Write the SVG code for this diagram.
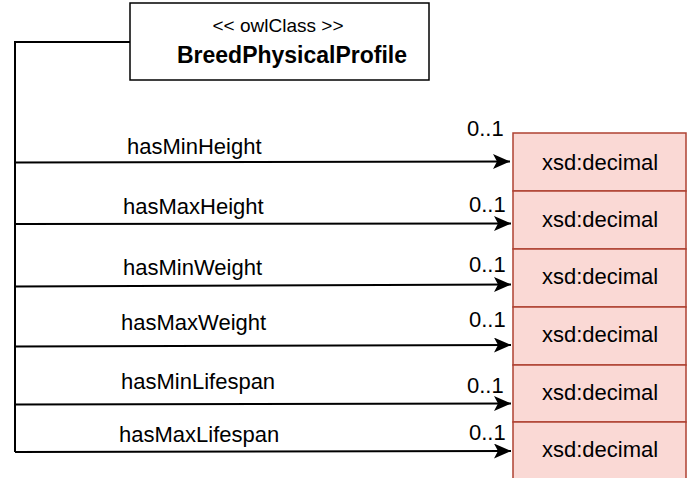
<svg xmlns="http://www.w3.org/2000/svg" width="694" height="478" viewBox="0 0 694 478">
  <style>
    text { font-family: "Liberation Sans", Arial, sans-serif; fill: #000000; }
    .stereo { font-size: 19px; }
    .cls { font-size: 23px; font-weight: bold; }
    .lbl { font-size: 22px; }
    .card { font-size: 22px; }
    .dt { font-size: 22px; }
    .classbox { fill: #ffffff; stroke: #000000; stroke-width: 1.5; }
    .dtbox { fill: #fad9d5; stroke: #ae4132; stroke-width: 1.5; }
    .edge { fill: none; stroke: #000000; stroke-width: 2; }
  </style>
  <defs>
    <marker id="arrow" markerUnits="userSpaceOnUse" markerWidth="18" markerHeight="16" refX="17" refY="7.5" orient="auto">
      <path d="M0,0 L17,7.5 L0,15 L4,7.5 Z" fill="#000000"/>
    </marker>
  </defs>

  <!-- connectors -->
  <g id="connectors">
    <path class="edge" d="M130,42 L15,42 L15,452"/>
    <path class="edge" d="M15,162.5 L510,161.5" marker-end="url(#arrow)"/>
    <path class="edge" d="M15,224 L511,223.5" marker-end="url(#arrow)"/>
    <path class="edge" d="M15,286.5 L511,284.5" marker-end="url(#arrow)"/>
    <path class="edge" d="M15,346.5 L511,345" marker-end="url(#arrow)"/>
    <path class="edge" d="M15,404.5 L511,403.5" marker-end="url(#arrow)"/>
    <path class="edge" d="M15,452 L511,451" marker-end="url(#arrow)"/>

    <text class="lbl" x="127" y="154">hasMinHeight</text>
    <text class="lbl" x="123" y="214">hasMaxHeight</text>
    <text class="lbl" x="123" y="275">hasMinWeight</text>
    <text class="lbl" x="121" y="330">hasMaxWeight</text>
    <text class="lbl" x="121" y="389">hasMinLifespan</text>
    <text class="lbl" x="119" y="442">hasMaxLifespan</text>

    <text class="card" x="467" y="136">0..1</text>
    <text class="card" x="469" y="212">0..1</text>
    <text class="card" x="469" y="272">0..1</text>
    <text class="card" x="469" y="327">0..1</text>
    <text class="card" x="467" y="393">0..1</text>
    <text class="card" x="469" y="440">0..1</text>
  </g>

  <!-- class node -->
  <g id="BreedPhysicalProfile">
    <rect class="classbox" x="130" y="3" width="299" height="77"/>
    <text class="stereo" x="278" y="32" text-anchor="middle">&lt;&lt; owlClass &gt;&gt;</text>
    <text class="cls" x="292" y="63" text-anchor="middle">BreedPhysicalProfile</text>
  </g>

  <!-- datatype nodes -->
  <g id="minHeightType">
    <rect class="dtbox" x="513" y="133" width="173" height="58"/>
    <text class="dt" x="600" y="170" text-anchor="middle">xsd:decimal</text>
  </g>
  <g id="maxHeightType">
    <rect class="dtbox" x="513" y="191" width="173" height="58"/>
    <text class="dt" x="600" y="227" text-anchor="middle">xsd:decimal</text>
  </g>
  <g id="minWeightType">
    <rect class="dtbox" x="513" y="249" width="173" height="58"/>
    <text class="dt" x="600" y="284" text-anchor="middle">xsd:decimal</text>
  </g>
  <g id="maxWeightType">
    <rect class="dtbox" x="513" y="307" width="173" height="58"/>
    <text class="dt" x="600" y="342" text-anchor="middle">xsd:decimal</text>
  </g>
  <g id="minLifespanType">
    <rect class="dtbox" x="513" y="365" width="173" height="57"/>
    <text class="dt" x="600" y="400" text-anchor="middle">xsd:decimal</text>
  </g>
  <g id="maxLifespanType">
    <rect class="dtbox" x="513" y="422" width="173" height="60"/>
    <text class="dt" x="600" y="457" text-anchor="middle">xsd:decimal</text>
  </g>
</svg>
